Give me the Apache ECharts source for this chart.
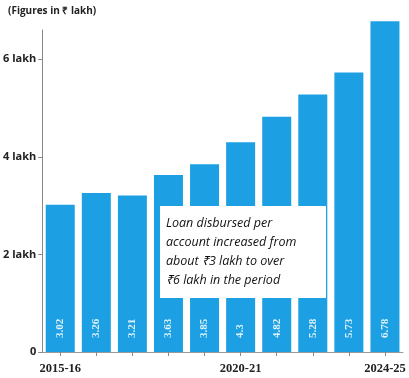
<!DOCTYPE html>
<html><head><meta charset="utf-8">
<script src="https://cdn.jsdelivr.net/npm/echarts@6/dist/echarts.min.js"></script>
<style>html,body{margin:0;padding:0;background:#fff}#c{width:409px;height:378px}</style>
</head><body><div id="c"></div>
<script>
const categories = ['2015-16','2016-17','2017-18','2018-19','2019-20','2020-21','2021-22','2022-23','2023-24','2024-25'];
const values = [3.02, 3.26, 3.21, 3.63, 3.85, 4.3, 4.82, 5.28, 5.73, 6.78];
const shownCategories = ['2015-16','2020-21','2024-25'];
const yTicks = [0, 2, 4, 6];
const yTickLabels = {0:'0', 2:'2 lakh', 4:'4 lakh', 6:'6 lakh'};
const noteLines = ['Loan disbursed per','account increased from','about ₹3 lakh to over','₹6 lakh in the period'];

const chart = echarts.init(document.getElementById('c'));
chart.setOption({
  animation: false,
  grid: {left: 40, right: 6, top: 30, bottom: 26},
  graphic: [
    {type:'text', left: 8, top: 6, style:{text:'(Figures in ₹ lakh)', font:'bold 10px "Open Sans"', fill:'#222'}},
    {type:'rect', shape:{x:160, y:206, width:166, height:92}, style:{fill:'#fff'}, z: 10},
    {type:'text', x:166, y:214, z: 11, style:{text: noteLines.join('\n'), font:'italic 500 12.5px "Open Sans"', lineHeight:19, fill:'#111'}}
  ],
  xAxis: {
    type:'category', data: categories,
    axisLine:{show:true, lineStyle:{color:'#999', width:1}},
    axisTick:{show:true, alignWithLabel:true, length:4, lineStyle:{color:'#888'}},
    axisLabel:{interval:0, margin:10, color:'#222', fontFamily:'Liberation Serif', fontWeight:'bold', fontSize:12.5,
      formatter: v => shownCategories.includes(v) ? v : ''}
  },
  yAxis: {
    type:'value', min:0, max:6.6,
    splitLine:{show:false},
    axisLine:{show:true, lineStyle:{color:'#888', width:1}},
    axisTick:{show:true, length:4, customValues: yTicks, lineStyle:{color:'#888'}},
    axisLabel:{customValues: yTicks, margin:6, color:'#222', fontSize:11, fontWeight:'bold', fontFamily:'Open Sans',
      formatter: v => yTickLabels[v] ?? ''}
  },
  series: [{
    type:'bar', data: values, barWidth: 29, clip:false,
    itemStyle:{color:'#1CA0E3'},
    label:{show:true, position:'insideBottom', rotate:90, distance:14, align:'left', verticalAlign:'middle',
      color:'rgba(255,255,255,0.85)', fontSize:11, fontWeight:'bold', fontFamily:'Liberation Serif'}
  }]
});
</script></body></html>
